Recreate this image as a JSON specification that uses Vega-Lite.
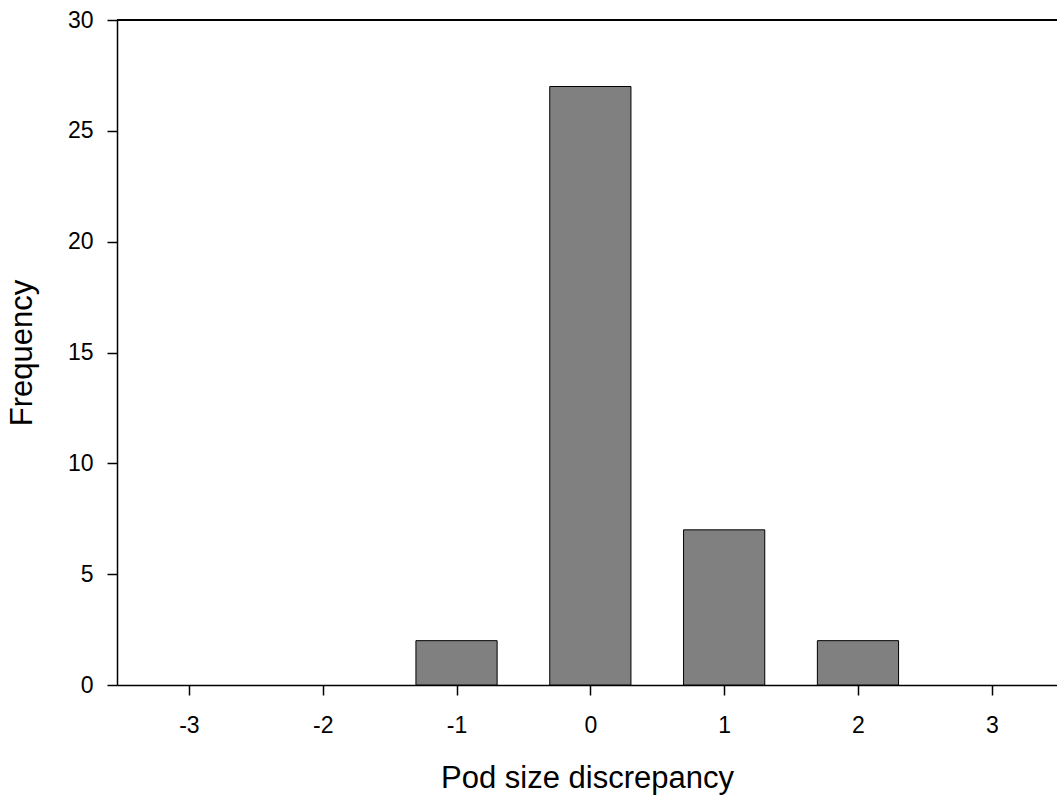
{
  "$schema": "https://vega.github.io/schema/vega-lite/v6.json",
  "autosize": {"type": "none"},
  "padding": {"left": 117, "top": 20, "right": 0, "bottom": 110},
  "width": 940,
  "height": 665,
  "background": "white",
  "config": {
    "view": {"stroke": null},
    "axis": {
      "labelFont": "Liberation Sans",
      "titleFont": "Liberation Sans",
      "labelFontSize": 23,
      "titleFontSize": 31,
      "titleFontWeight": "normal",
      "labelColor": "black",
      "titleColor": "black",
      "domainColor": "black",
      "tickColor": "black",
      "domainWidth": 1.5,
      "tickWidth": 1.5,
      "tickSize": 10,
      "grid": false
    }
  },
  "data": {
    "values": [
      {"discrepancy": -1, "frequency": 2},
      {"discrepancy": 0, "frequency": 27},
      {"discrepancy": 1, "frequency": 7},
      {"discrepancy": 2, "frequency": 2}
    ]
  },
  "layer": [
    {
      "mark": {"type": "bar", "width": 81.2, "fill": "#808080", "stroke": "black", "strokeWidth": 1},
      "encoding": {
        "x": {
          "field": "discrepancy",
          "type": "quantitative",
          "scale": {"domain": [-3.5, 3.45], "nice": false, "zero": false},
          "axis": {
            "values": [-3, -2, -1, 0, 1, 2, 3],
            "labelExpr": "'' + datum.value",
            "labelPadding": 19,
            "titlePadding": 26,
            "title": "Pod size discrepancy"
          }
        },
        "y": {
          "field": "frequency",
          "type": "quantitative",
          "scale": {"domain": [0, 30], "nice": false},
          "axis": {
            "values": [0, 5, 10, 15, 20, 25, 30],
            "labelPadding": 14,
            "titlePadding": 29,
            "title": "Frequency"
          }
        }
      }
    },
    {
      "mark": {"type": "rule", "color": "black", "strokeWidth": 1.5},
      "encoding": {"y": {"datum": 30}}
    }
  ]
}
